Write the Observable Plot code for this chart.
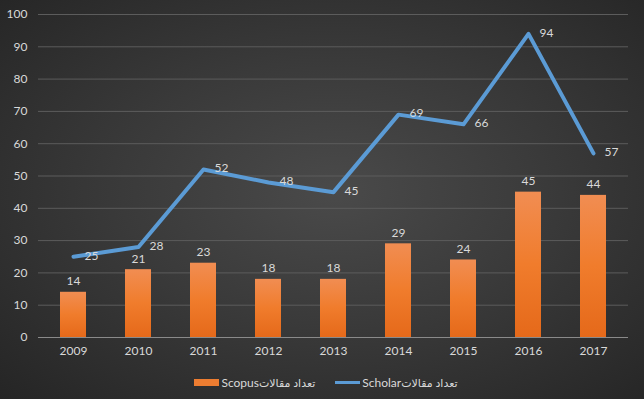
<!DOCTYPE html>
<html>
<head>
<meta charset="utf-8">
<script src="https://cdn.jsdelivr.net/npm/d3@7"></script>
<script src="https://cdn.jsdelivr.net/npm/@observablehq/plot@0.6"></script>
<style>
  html, body { margin: 0; padding: 0; }
  #wrap {
    width: 644px; height: 399px; position: relative; overflow: hidden;
    background: radial-gradient(ellipse farthest-corner at 52% 48%, #4a4a4a 0%, #3a3a3a 45%, #252525 100%);
    font-family: Lato, "DejaVu Sans", sans-serif;
  }
  #legend {
    position: absolute; left: 4px; top: 374px; width: 644px; height: 16px;
    display: flex; justify-content: center; align-items: center; gap: 20px;
    color: #d9d9d9; font-size: 12px;
  }
  .item { display: flex; align-items: center; gap: 2px; }
  .ar { font-size: 11px; }
  .sw-bar { width: 25px; height: 7px; background: #ed7d31; }
  .sw-line { width: 25px; height: 3px; background: #5b9bd5; }
</style>
</head>
<body>
<div id="wrap"><div id="chart"></div>
<div id="legend">
  <div class="item"><span class="sw-bar"></span><span dir="ltr">Scopus<span class="ar" dir="rtl">تعداد مقالات</span></span></div>
  <div class="item"><span class="sw-line"></span><span dir="ltr">Scholar<span class="ar" dir="rtl">تعداد مقالات</span></span></div>
</div>
</div>
<script>
const years = ["2009","2010","2011","2012","2013","2014","2015","2016","2017"];
const scopus = [14, 21, 23, 18, 18, 29, 24, 45, 44];
const scholar = [25, 28, 52, 48, 45, 69, 66, 94, 57];
const yTicks = [0,10,20,30,40,50,60,70,80,90,100];

const data = years.map((y, i) => ({year: y, scopus: scopus[i], scholar: scholar[i]}));
const txt = "#d9d9d9";

const chart = Plot.plot({
  width: 644,
  height: 365,
  marginTop: 14,
  marginBottom: 28,
  marginLeft: 38,
  marginRight: 16,
  style: {background: "transparent", color: txt, fontFamily: "Lato, 'DejaVu Sans', sans-serif", fontSize: "12px"},
  x: {domain: years, paddingInner: 0.6, paddingOuter: 0.3, label: null, tickSize: 0, tickPadding: 9},
  y: {domain: [0, 100], ticks: yTicks, label: null, tickSize: 0, tickPadding: 11},
  marks: [
    Plot.gridY(yTicks.filter(d => d > 0), {stroke: "#5c5c5c", strokeOpacity: 1, strokeWidth: 1}),
    Plot.barY(data, {x: "year", y: "scopus", fill: "url(#barGrad)"}),
    Plot.ruleY([0], {stroke: "#8a8a8a", strokeWidth: 1}),
    Plot.lineY(data, {x: "year", y: "scholar", stroke: "#5b9bd5", strokeWidth: 4, strokeLinecap: "round", strokeLinejoin: "round"}),
    Plot.text(data, {x: "year", y: "scopus", text: d => String(d.scopus), dy: -11, fill: txt, fontSize: 12}),
    Plot.text(data, {x: "year", y: "scholar", text: d => String(d.scholar), dx: 18, dy: -1, fill: txt, fontSize: 12})
  ]
});

const svg = d3.select(chart);
const defs = svg.insert("defs", ":first-child");
const g = defs.append("linearGradient").attr("id", "barGrad").attr("x1", 0).attr("y1", 0).attr("x2", 0).attr("y2", 1);
g.append("stop").attr("offset", "0%").attr("stop-color", "#f18d52");
g.append("stop").attr("offset", "50%").attr("stop-color", "#f07c2c");
g.append("stop").attr("offset", "100%").attr("stop-color", "#e5691a");

document.getElementById("chart").appendChild(chart);
</script>
</body>
</html>
